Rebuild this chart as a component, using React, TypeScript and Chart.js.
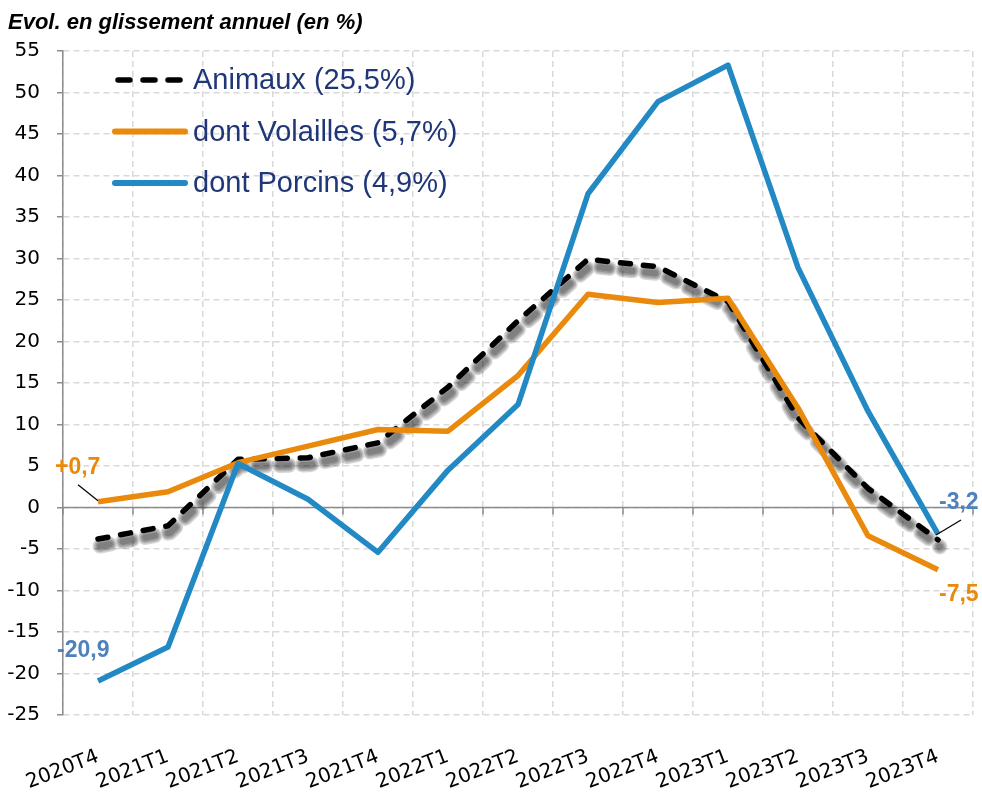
import React, { useEffect, useRef } from 'react';
import { Chart, registerables } from 'chart.js';

Chart.register(...registerables);

// ---- Data ----
const chartTitle = 'Evol. en glissement annuel (en %)';
const categories = [
  '2020T4', '2021T1', '2021T2', '2021T3', '2021T4', '2022T1', '2022T2',
  '2022T3', '2022T4', '2023T1', '2023T2', '2023T3', '2023T4',
];
const seriesNames = ['Animaux (25,5%)', 'dont Volailles (5,7%)', 'dont Porcins (4,9%)'];
const animaux = [-3.8, -2.2, 5.8, 6.0, 7.8, 14.5, 22.5, 29.9, 29.0, 24.8, 10.8, 2.3, -3.9];
const volailles = [0.7, 1.9, 5.4, 7.4, 9.4, 9.2, 15.9, 25.7, 24.7, 25.2, 12.0, -3.4, -7.5];
const porcins = [-20.9, -16.8, 5.3, 1.0, -5.4, 4.5, 12.4, 37.8, 48.9, 53.3, 28.9, 11.6, -3.2];
const yMin = -25;
const yMax = 55;
const yStep = 5;
const calloutTexts = ['+0,7', '-20,9', '-3,2', '-7,5'];

// ---- Styles ----
const BLACK = '#000000';
const ORANGE = '#E98A0D';
const BLUE = '#2389C4';
const LABEL_BLUE = '#4F81BD';
const LEGEND_TEXT = '#1F3677';
const GRID = '#D9D9D9';
const AXIS = '#8C8C8C';
const SANS = '"Liberation Sans", Arial, sans-serif';
const TICK_FONT = '"DejaVu Sans", sans-serif';
const ANIMAUX_DASH = [10, 13];

const zeroLinePlugin = {
  id: 'zeroLinePlugin',
  beforeDatasetsDraw(chart: any) {
    const { ctx, chartArea, scales } = chart;
    const y0 = scales.y.getPixelForValue(0);
    ctx.save();
    ctx.strokeStyle = AXIS;
    ctx.lineWidth = 1.5;
    ctx.setLineDash([]);
    ctx.beginPath();
    ctx.moveTo(chartArea.left, y0);
    ctx.lineTo(chartArea.right, y0);
    const n = categories.length;
    for (let i = 0; i <= n; i++) {
      let x: number;
      if (i === 0) x = chartArea.left;
      else if (i === n) x = chartArea.right;
      else x = (scales.x.getPixelForValue(i - 1) + scales.x.getPixelForValue(i)) / 2;
      ctx.moveTo(x, y0);
      ctx.lineTo(x, y0 + 7);
    }
    ctx.stroke();
    ctx.restore();

    // Soft shadow under the Animaux dashed line (layered strokes)
    const meta = chart.getDatasetMeta(0);
    const pts = meta.data.map((p: any) => ({ x: p.x, y: p.y }));
    ctx.save();
    ctx.lineCap = 'round';
    ctx.lineJoin = 'round';
    ctx.setLineDash(ANIMAUX_DASH);
    const layers = [15, 12, 9, 6];
    layers.forEach((w) => {
      ctx.strokeStyle = 'rgba(0,0,0,0.16)';
      ctx.lineWidth = w;
      ctx.beginPath();
      pts.forEach((p: any, i: number) => {
        if (i === 0) ctx.moveTo(p.x + 2, p.y + 7);
        else ctx.lineTo(p.x + 2, p.y + 7);
      });
      ctx.stroke();
    });
    ctx.restore();
  },
};

const decorPlugin = {
  id: 'decorPlugin',
  afterDraw(chart: any) {
    const { ctx, chartArea, scales } = chart;
    ctx.save();
    // Title
    ctx.fillStyle = '#000';
    ctx.font = `italic bold 22px ${SANS}`;
    ctx.textAlign = 'left';
    ctx.textBaseline = 'alphabetic';
    ctx.fillText(chartTitle, 8, 29);

    // Legend
    const colors = [BLACK, ORANGE, BLUE];
    chart.data.datasets.forEach((ds: any, i: number) => {
      const y = chartArea.top + 29 + i * 51.5;
      const x0 = chartArea.left + 52;
      const x1 = chartArea.left + 122;
      ctx.beginPath();
      ctx.strokeStyle = colors[i];
      ctx.lineWidth = i === 0 ? 5.5 : 6;
      ctx.lineCap = 'round';
      ctx.setLineDash(i === 0 ? [12, 13] : []);
      ctx.moveTo(x0 + (i === 0 ? 3 : 0), y);
      ctx.lineTo(x1, y);
      ctx.stroke();
      ctx.setLineDash([]);
      ctx.fillStyle = LEGEND_TEXT;
      ctx.font = `29px ${SANS}`;
      ctx.textAlign = 'left';
      ctx.textBaseline = 'middle';
      ctx.fillText(ds.label, x1 + 8, y + 1);
    });

    // Callouts
    const last = categories.length - 1;
    const px = (i: number) => scales.x.getPixelForValue(i);
    const py = (v: number) => scales.y.getPixelForValue(v);
    ctx.font = `bold 23px ${SANS}`;
    ctx.textAlign = 'left';
    ctx.textBaseline = 'alphabetic';

    // +0,7 (Volailles first point)
    const vx = px(0), vy = py(volailles[0]);
    ctx.fillStyle = ORANGE;
    ctx.fillText(calloutTexts[0], vx - 43, vy - 28);
    ctx.strokeStyle = '#000';
    ctx.lineWidth = 1.2;
    ctx.lineCap = 'butt';
    ctx.beginPath();
    ctx.moveTo(vx - 20, vy - 17);
    ctx.lineTo(vx, vy - 1);
    ctx.stroke();

    // -20,9 (Porcins first point)
    const p0x = px(0), p0y = py(porcins[0]);
    ctx.fillStyle = LABEL_BLUE;
    ctx.fillText(calloutTexts[1], p0x - 41, p0y - 24);

    // -3,2 (Porcins last point)
    const plx = px(last), ply = py(porcins[last]);
    ctx.fillStyle = LABEL_BLUE;
    ctx.fillText(calloutTexts[2], plx + 1, ply - 25);
    ctx.beginPath();
    ctx.moveTo(plx - 2, ply + 1);
    ctx.lineTo(plx + 23, ply - 14);
    ctx.stroke();

    // -7,5 (Volailles last point)
    const vlx = px(last), vly = py(volailles[last]);
    ctx.fillStyle = ORANGE;
    ctx.fillText(calloutTexts[3], vlx + 1, vly + 31);

    ctx.restore();
  },
};

export default function App() {
  const canvasRef = useRef<HTMLCanvasElement | null>(null);

  useEffect(() => {
    if (!canvasRef.current) return;
    const chart = new Chart(canvasRef.current, {
      type: 'line',
      data: {
        labels: categories,
        datasets: [
          {
            label: seriesNames[0],
            data: animaux,
            borderColor: BLACK,
            borderWidth: 5.5,
            borderDash: ANIMAUX_DASH,
            borderCapStyle: 'round',
            borderJoinStyle: 'round',
            pointRadius: 0,
            tension: 0,
            order: 2,
          },
          {
            label: seriesNames[1],
            data: volailles,
            borderColor: ORANGE,
            borderWidth: 5.5,
            borderJoinStyle: 'round',
            pointRadius: 0,
            tension: 0,
            order: 1,
          },
          {
            label: seriesNames[2],
            data: porcins,
            borderColor: BLUE,
            borderWidth: 5.5,
            borderJoinStyle: 'round',
            pointRadius: 0,
            tension: 0,
            order: 0,
          },
        ],
      },
      options: {
        animation: false,
        responsive: true,
        maintainAspectRatio: false,
        layout: { padding: { top: 51, left: 0, right: 9, bottom: 0 } },
        plugins: {
          legend: { display: false },
          title: { display: false },
          tooltip: { enabled: false },
        },
        scales: {
          x: {
            offset: true,
            grid: {
              offset: true,
              color: GRID,
              lineWidth: 1.5,
              drawTicks: false,
            },
            border: { display: false, dash: [6, 4] },
            ticks: {
              autoSkip: false,
              minRotation: 21,
              maxRotation: 21,
              padding: 30,
              color: '#000',
              font: { family: TICK_FONT, size: 20 },
            },
            afterFit(scale: any) {
              scale.height = 77;
              scale.paddingLeft = 0;
              scale.paddingRight = 0;
            },
          },
          y: {
            min: yMin,
            max: yMax,
            grid: {
              color: GRID,
              lineWidth: 1.5,
              drawTicks: true,
              tickLength: 6,
              tickColor: AXIS,
              tickBorderDash: [],
              tickWidth: 1.5,
            },
            border: { display: true, color: AXIS, width: 1.5, dash: [6, 4] },
            ticks: {
              stepSize: yStep,
              padding: 17,
              color: '#000',
              font: { family: TICK_FONT, size: 20 },
            },
            afterFit(scale: any) {
              scale.width = 63;
            },
          },
        },
      },
      plugins: [zeroLinePlugin, decorPlugin],
    } as any);
    return () => chart.destroy();
  }, []);

  return (
    <div style={{ position: 'fixed', left: 0, top: 0, width: 982, height: 792, background: '#fff' }}>
      <canvas ref={canvasRef} />
    </div>
  );
}
